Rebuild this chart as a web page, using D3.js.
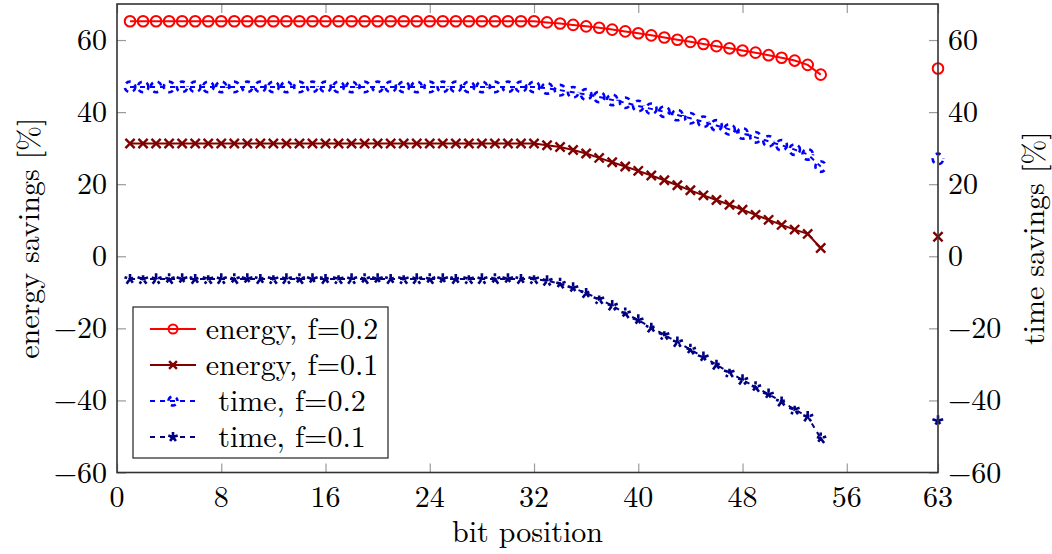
<!DOCTYPE html>
<html>
<head>
<meta charset="utf-8">
<script src="https://cdn.jsdelivr.net/npm/d3@7"></script>
<style>
  html, body { margin: 0; padding: 0; background: #fff; }
</style>
</head>
<body>
<svg id="chart" width="1052" height="554"></svg>
<script>
// bit positions that were measured
const bits = [1,2,3,4,5,6,7,8,9,10,11,12,13,14,15,16,17,18,19,20,21,22,23,24,25,26,27,
              28,29,30,31,32,33,34,35,36,37,38,39,40,41,42,43,44,45,46,47,48,49,50,51,52,53,54,63];

// savings in percent, one value per bit position
const energyF02 = [65.2,65.2,65.2,65.2,65.2,65.2,65.2,65.2,65.2,65.2,65.2,65.2,65.2,65.2,65.2,65.2,
                   65.2,65.2,65.2,65.2,65.2,65.2,65.2,65.2,65.2,65.2,65.2,65.2,65.2,65.2,65.2,65.2,
                   64.9,64.6,64.2,63.8,63.4,62.9,62.4,61.9,61.3,60.7,60.1,59.5,58.9,58.3,57.7,57.1,
                   56.5,55.8,55.1,54.3,53.1,50.4,52.1];
const energyF01 = [31.3,31.3,31.3,31.3,31.3,31.3,31.3,31.3,31.3,31.3,31.3,31.3,31.3,31.3,31.3,31.3,
                   31.3,31.3,31.3,31.3,31.3,31.3,31.3,31.3,31.3,31.3,31.3,31.3,31.3,31.3,31.3,31.3,
                   30.8,30.3,29.5,28.5,27.3,26.1,24.9,23.7,22.4,21.1,19.7,18.3,16.9,15.6,14.3,12.9,
                   11.5,10.1,8.7,7.4,6.2,2.3,5.4];
const timeF02   = [47.0,47.0,47.0,47.0,47.0,47.0,47.0,47.0,47.0,47.0,47.0,47.0,47.0,47.0,47.0,47.0,
                   47.0,47.0,47.0,47.0,47.0,47.0,47.0,47.0,47.0,47.0,47.0,47.0,47.0,47.0,47.0,47.0,
                   46.6,46.1,45.5,44.9,44.2,43.4,42.6,41.7,40.9,40.1,39.2,38.3,37.3,36.3,35.2,34.1,
                   33.0,31.9,30.8,29.6,28.3,24.9,27.0];
const timeF01   = [-6.3,-6.3,-6.3,-6.3,-6.3,-6.3,-6.3,-6.3,-6.3,-6.3,-6.3,-6.3,-6.3,-6.3,-6.3,-6.3,
                   -6.3,-6.3,-6.3,-6.3,-6.3,-6.3,-6.3,-6.3,-6.3,-6.3,-6.3,-6.3,-6.3,-6.3,-6.3,-6.3,
                   -6.8,-7.6,-8.8,-10.2,-11.9,-13.7,-15.8,-17.7,-19.8,-21.8,-23.8,-25.9,-28.0,-30.1,-32.2,-34.3,
                   -36.3,-38.3,-40.3,-42.5,-44.5,-50.5,-45.7];

const seriesNames = ["energy, f=0.2", "energy, f=0.1", "time, f=0.2", "time, f=0.1"];

const xTicks = [0, 8, 16, 24, 32, 40, 48, 56, 63];
const yTicks = [-60, -40, -20, 0, 20, 40, 60];
const xDomain = [0, 63];
const yDomain = [-60, 70];

const xTitle = "bit position";
const yLeftTitle = "energy savings [%]";
const yRightTitle = "time savings [%]";

// ---- layout ----
const svg = d3.select("#chart");
const plot = { left: 117, right: 938, top: 4, bottom: 472.5 };

const x = d3.scaleLinear().domain(xDomain).range([plot.left, plot.right]);
const y = d3.scaleLinear().domain(yDomain).range([plot.bottom, plot.top]);

const FONT = 30;
const FAMILY = "Latin Modern Roman";
const tickLen = 9;

function label(sel) {
  return sel.attr("font-family", FAMILY).attr("font-size", FONT).attr("fill", "#000");
}

// series style definitions
const styles = [
  { values: energyF02, color: "#ff0000", dash: null,  marker: "circle" },
  { values: energyF01, color: "#800000", dash: null,  marker: "cross" },
  { values: timeF02,   color: "#0000ff", dash: "5 5", marker: "circle" },
  { values: timeF01,   color: "#000080", dash: "5 5", marker: "star" }
];

// ---- ticks (drawn inside the frame) ----
const tickColor = "#9a9a9a";
const axisG = svg.append("g");

const bottomAxis = d3.axisBottom(x).tickValues(xTicks).tickSize(-tickLen).tickFormat("");
const topAxis = d3.axisTop(x).tickValues(xTicks).tickSize(-tickLen).tickFormat("");
const leftAxis = d3.axisLeft(y).tickValues(yTicks).tickSize(-tickLen).tickFormat("");
const rightAxis = d3.axisRight(y).tickValues(yTicks).tickSize(-tickLen).tickFormat("");

function styleTicks(g) {
  g.select(".domain").remove();
  g.selectAll(".tick line").attr("stroke", tickColor).attr("stroke-width", 1.2);
}
axisG.append("g").attr("transform", `translate(0,${plot.bottom})`).call(bottomAxis).call(styleTicks);
axisG.append("g").attr("transform", `translate(0,${plot.top})`).call(topAxis).call(styleTicks);
axisG.append("g").attr("transform", `translate(${plot.left},0)`).call(leftAxis).call(styleTicks);
axisG.append("g").attr("transform", `translate(${plot.right},0)`).call(rightAxis).call(styleTicks);

// tick labels
const fmt = v => (v < 0 ? "\u2212" + Math.abs(v) : String(v));
svg.append("g").selectAll("text").data(xTicks).join("text")
  .call(label)
  .attr("x", d => x(d)).attr("y", plot.bottom + 34)
  .attr("text-anchor", "middle")
  .text(fmt);
svg.append("g").selectAll("text").data(yTicks).join("text")
  .call(label)
  .attr("x", plot.left - 10).attr("y", d => y(d) + 10)
  .attr("text-anchor", "end")
  .text(fmt);
svg.append("g").selectAll("text").data(yTicks).join("text")
  .call(label)
  .attr("x", plot.right + 10).attr("y", d => y(d) + 10)
  .attr("text-anchor", "start")
  .text(fmt);

// axis titles
svg.append("text").call(label)
  .attr("x", (plot.left + plot.right) / 2).attr("y", 542)
  .attr("text-anchor", "middle").text(xTitle);
svg.append("text").call(label)
  .attr("transform", `translate(39,${(plot.top + plot.bottom) / 2}) rotate(-90)`)
  .attr("text-anchor", "middle").text(yLeftTitle);
svg.append("text").call(label)
  .attr("transform", `translate(1044,${(plot.top + plot.bottom) / 2}) rotate(-90)`)
  .attr("text-anchor", "middle").text(yRightTitle);

// ---- markers ----
function markerPath(type, r) {
  if (type === "cross") {
    return `M${-r},${-r}L${r},${r}M${-r},${r}L${r},${-r}`;
  }
  if (type === "star") {
    // five arms walked as one stroke so a dash pattern runs through all of them
    let p = "M0,0";
    for (let k = 0; k < 5; k++) {
      const a = -Math.PI / 2 + k * 2 * Math.PI / 5;
      p += `L${(r * Math.cos(a)).toFixed(2)},${(r * Math.sin(a)).toFixed(2)}L0,0`;
    }
    return p;
  }
  return null;
}

function drawMarker(g, s, cx, cy, i, scale) {
  const sc = scale || 1;
  let el;
  if (s.marker === "circle") {
    el = g.append("circle").attr("cx", cx).attr("cy", cy).attr("r", 5.3 * sc).attr("fill", "none");
  } else {
    const r = s.marker === "cross" ? 4.6 * sc : 5.8 * sc;
    el = g.append("path").attr("d", markerPath(s.marker, r))
      .attr("transform", `translate(${cx},${cy})`).attr("fill", "none");
  }
  const w = s.dash ? 2.6 : (s.marker === "circle" ? 2 : 2.4);
  el.attr("stroke", s.color).attr("stroke-width", w);
  if (s.dash) {
    el.attr("stroke-dasharray", s.dash).attr("stroke-dashoffset", i * 2);
  }
}

// ---- series ----
const line = d3.line().x(d => x(d.b)).y(d => y(d.v));
const dataG = svg.append("g");

styles.forEach(s => {
  const pts = bits.map((b, i) => ({ b, v: s.values[i] }));
  // split into runs of consecutive bit positions
  const runs = [];
  pts.forEach((p, i) => {
    if (i === 0 || p.b - pts[i - 1].b > 1) runs.push([]);
    runs[runs.length - 1].push(p);
  });
  runs.filter(r => r.length > 1).forEach(r => {
    dataG.append("path").attr("d", line(r)).attr("fill", "none")
      .attr("stroke", s.color).attr("stroke-width", 2)
      .attr("stroke-dasharray", s.dash);
  });
  const mg = dataG.append("g");
  pts.forEach((p, i) => drawMarker(mg, s, x(p.b), y(p.v), i));
});

// ---- frame ----
svg.append("rect")
  .attr("x", plot.left).attr("y", plot.top)
  .attr("width", plot.right - plot.left).attr("height", plot.bottom - plot.top)
  .attr("fill", "none").attr("stroke", "#333").attr("stroke-width", 1.6);

// ---- legend ----
const legend = svg.append("g");
const lg = { x: 133, y: 307, w: 255, h: 151 };
legend.append("rect").attr("x", lg.x).attr("y", lg.y).attr("width", lg.w).attr("height", lg.h)
  .attr("fill", "#fff").attr("stroke", "#222").attr("stroke-width", 1.2);
const rowY = [329, 365, 401, 437];
styles.forEach((s, i) => {
  const ly = rowY[i];
  legend.append("line").attr("x1", 150).attr("x2", 196).attr("y1", ly).attr("y2", ly)
    .attr("stroke", s.color).attr("stroke-width", 2).attr("stroke-dasharray", s.dash);
  drawMarker(legend, s, 173, ly, 3, 0.85);
  legend.append("text").call(label)
    .attr("x", 292).attr("y", ly + 10)
    .attr("text-anchor", "middle").text(seriesNames[i]);
});
</script>
</body>
</html>
